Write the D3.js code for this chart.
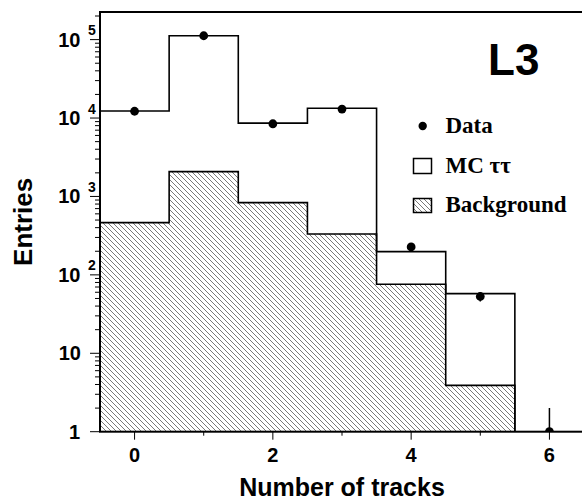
<!DOCTYPE html>
<html>
<head>
<meta charset="utf-8">
<script src="https://cdn.jsdelivr.net/npm/d3@7"></script>
<style>
  html, body { margin: 0; padding: 0; background: #fff; }
  svg { display: block; }
  .sans { font-family: "Liberation Sans", Arial, Helvetica, sans-serif; font-weight: bold; }
  .serif { font-family: "Liberation Serif", "Times New Roman", serif; font-weight: bold; }
</style>
</head>
<body>
<svg id="chart" width="582" height="501"></svg>
<script>
// Track multiplicity per event
const trackBins = [0, 1, 2, 3, 4, 5, 6];
// Stacked MC expectation (tau pairs + background), per bin
const mcTotal = [12300, 112000, 8600, 13300, 198, 57.6, 0];
// Background contribution, per bin
const background = [463, 2070, 834, 332, 76, 3.9, 0];
// Observed events and their statistical errors
const dataCounts = [12200, 112000, 8450, 13000, 227, 53, 1];
const dataErrors = [110, 335, 92, 114, 15, 7.3, 1];

const xTicks = [0, 2, 4, 6];
const xMinorTicks = [1, 3, 5];
const yMajorTicks = [1, 10, 100, 1000, 10000, 100000];
const legendLabels = ["Data", "MC \u03c4\u03c4", "Background"];

const svg = d3.select("#chart");
const plotL = 100, plotT = 12, plotB = 431.7, plotR = 584;

const x = d3.scaleLinear().domain([-0.5, 6.5]).range([plotL, plotR]);
const y = d3.scaleLog().domain([1, 2.25e5]).range([plotB, plotT]);

// hatch pattern for the background histogram
const defs = svg.append("defs");
const pat = defs.append("pattern")
  .attr("id", "hatch")
  .attr("patternUnits", "userSpaceOnUse")
  .attr("width", 5).attr("height", 5);
pat.append("path")
  .attr("d", "M0,0 L5,5 M-1,4 L1,6 M4,-1 L6,1")
  .attr("stroke", "#6a6a6a").attr("stroke-width", 0.9).attr("fill", "none");

defs.append("clipPath").attr("id", "plotClip")
  .append("rect").attr("x", plotL).attr("y", plotT)
  .attr("width", plotR - plotL).attr("height", plotB - plotT);

const plot = svg.append("g").attr("clip-path", "url(#plotClip)");

// step points for a histogram: one point per bin low edge plus the last high edge
function stepPoints(values) {
  const pts = [];
  let last = null;
  trackBins.forEach((b, i) => {
    if (values[i] > 0) { pts.push([b - 0.5, values[i]]); last = i; }
  });
  pts.push([trackBins[last] + 0.5, values[last]]);
  return pts;
}

const bgPts = stepPoints(background);
const mcPts = stepPoints(mcTotal);

const area = d3.area().curve(d3.curveStepAfter)
  .x(d => x(d[0])).y0(y(1)).y1(d => y(d[1]));
const line = d3.line().curve(d3.curveStepAfter)
  .x(d => x(d[0])).y(d => y(d[1]));

// background: hatched area with outline
plot.append("path").attr("d", area(bgPts)).attr("fill", "url(#hatch)");
plot.append("path")
  .attr("d", line(bgPts) + "V" + y(1))
  .attr("fill", "none").attr("stroke", "#000").attr("stroke-width", 1.6);

// MC total outline
plot.append("path")
  .attr("d", line(mcPts) + "V" + y(1))
  .attr("fill", "none").attr("stroke", "#000").attr("stroke-width", 1.6);

// data points with error bars (lower end clipped at the axis floor)
const pts = trackBins.map((b, i) => ({ b, v: dataCounts[i], e: dataErrors[i] }));
plot.selectAll("line.err").data(pts).join("line")
  .attr("class", "err")
  .attr("x1", d => x(d.b)).attr("x2", d => x(d.b))
  .attr("y1", d => (d.v - d.e) > 1 ? y(d.v - d.e) : plotB + 5)
  .attr("y2", d => y(d.v + d.e))
  .attr("stroke", "#000").attr("stroke-width", 1.5);
plot.selectAll("circle.pt").data(pts).join("circle")
  .attr("class", "pt")
  .attr("cx", d => x(d.b)).attr("cy", d => y(d.v)).attr("r", 4.4)
  .attr("fill", "#000");

// frame
svg.append("rect")
  .attr("x", plotL).attr("y", plotT)
  .attr("width", plotR - plotL).attr("height", plotB - plotT)
  .attr("fill", "none").attr("stroke", "#000").attr("stroke-width", 2);

// y axis ticks (log): majors at decades, minors at 2..9
const yAll = [];
for (let p = 0; p <= 5; p++) {
  for (let m = 1; m <= 9; m++) {
    const v = m * Math.pow(10, p);
    if (v <= y.domain()[1]) yAll.push(v);
  }
}
svg.append("g").selectAll("line").data(yAll).join("line")
  .attr("x1", d => yMajorTicks.includes(d) ? plotL - 10 : plotL - 5)
  .attr("x2", plotL)
  .attr("y1", d => y(d)).attr("y2", d => y(d))
  .attr("stroke", "#000").attr("stroke-width", 1);

// y tick labels
const yl = svg.append("g").attr("class", "sans");
yMajorTicks.forEach(v => {
  const p = Math.round(Math.log10(v));
  const ty = y(v);
  if (p === 0) {
    yl.append("text").attr("x", 80).attr("y", ty + 7).attr("text-anchor", "end")
      .attr("font-size", 20).text("1");
  } else if (p === 1) {
    yl.append("text").attr("x", 81).attr("y", ty + 7).attr("text-anchor", "end")
      .attr("font-size", 20).text("10");
  } else {
    yl.append("text").attr("x", 80.5).attr("y", ty + 7).attr("text-anchor", "end")
      .attr("font-size", 20).text("10");
    yl.append("text").attr("x", 88).attr("y", ty - 4.5)
      .attr("font-size", 14).text(p);
  }
});

// x axis ticks
svg.append("g").selectAll("line").data(xTicks.concat(xMinorTicks)).join("line")
  .attr("x1", d => x(d)).attr("x2", d => x(d))
  .attr("y1", plotB)
  .attr("y2", d => xTicks.includes(d) ? plotB + 8 : plotB + 4)
  .attr("stroke", "#000").attr("stroke-width", 1);
svg.append("g").attr("class", "sans").selectAll("text").data(xTicks).join("text")
  .attr("x", d => x(d)).attr("y", 461.5).attr("text-anchor", "middle")
  .attr("font-size", 20).text(d => d);

// axis titles
svg.append("text").attr("class", "sans")
  .attr("x", (plotL + plotR) / 2).attr("y", 495.5).attr("text-anchor", "middle")
  .attr("font-size", 25).text("Number of tracks");
svg.append("text").attr("class", "sans")
  .attr("transform", `translate(31.5,${(plotT + plotB) / 2}) rotate(-90)`)
  .attr("text-anchor", "middle").attr("font-size", 26).text("Entries");

// experiment tag
svg.append("text").attr("class", "sans")
  .attr("x", 488).attr("y", 75).attr("font-size", 44).text("L3");

// legend
const lg = svg.append("g");
lg.append("circle").attr("cx", 422.7).attr("cy", 126).attr("r", 4.2).attr("fill", "#000");
lg.append("rect").attr("x", 413.5).attr("y", 158.5).attr("width", 18).attr("height", 15)
  .attr("fill", "#fff").attr("stroke", "#000").attr("stroke-width", 1.5);
lg.append("rect").attr("x", 413.5).attr("y", 198.5).attr("width", 18).attr("height", 14)
  .attr("fill", "url(#hatch)").attr("stroke", "#000").attr("stroke-width", 1.5);
lg.selectAll("text").data(legendLabels).join("text")
  .attr("class", "serif")
  .attr("x", 445.5).attr("y", (d, i) => [132.7, 173.3, 212.3][i])
  .attr("font-size", 23).text(d => d);
</script>
</body>
</html>
